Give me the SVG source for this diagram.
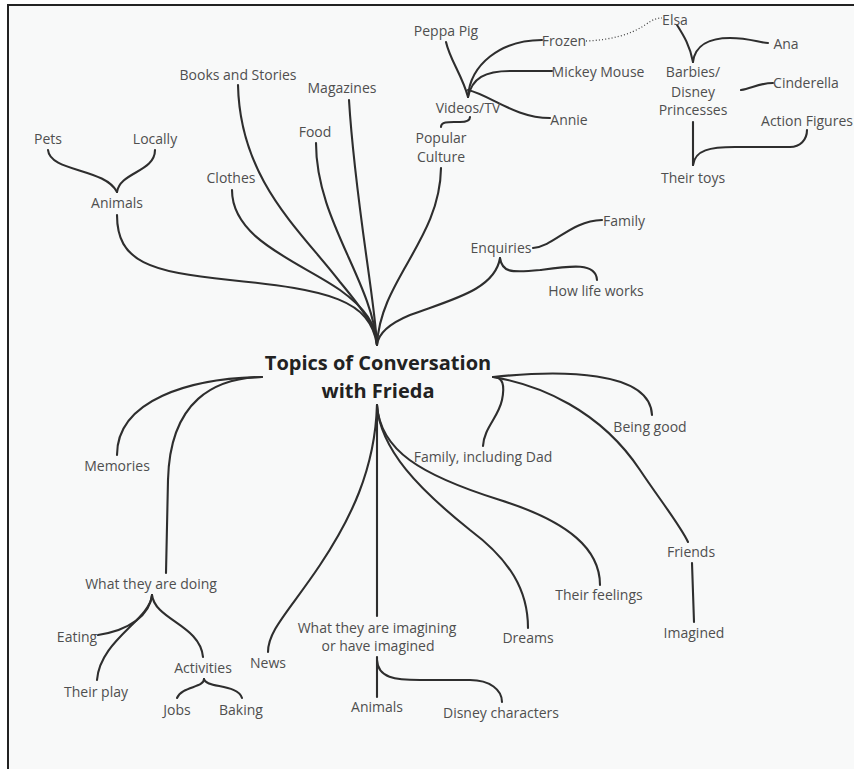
<svg xmlns="http://www.w3.org/2000/svg" width="854" height="769" viewBox="0 0 854 769">
  <style>
    .lbl { font-family: "Open Sans", "Noto Sans", "Liberation Sans", sans-serif; font-size: 14px; fill: #4f4f4f; text-anchor: middle; }
    .title { font-family: "Open Sans", "Noto Sans", "Liberation Sans", sans-serif; font-size: 20px; font-weight: bold; fill: #222; text-anchor: middle; }
    .ln { fill: none; stroke: #2e2e2e; stroke-width: 2.1; stroke-linecap: round; }
    .dot { fill: none; stroke: #444; stroke-width: 1.3; stroke-dasharray: 1 2.2; }
  </style>

  <!-- page and frame -->
  <rect x="0" y="0" width="854" height="769" fill="#ffffff"/>
  <rect x="8" y="5" width="860" height="780" fill="#f8f9f9" stroke="#222" stroke-width="2"/>

  <!-- connectors -->
  <g id="connectors">
    <!-- upper branches into the hub -->
    <path class="ln" d="M117,215 C117,262 150,272 230,280 C330,290 370,300 377,345"/>
    <path class="ln" d="M232,190 C232,240 300,262 340,290 C365,308 377,325 377,345"/>
    <path class="ln" d="M238,85 C240,180 300,230 340,282 C365,312 377,330 377,345"/>
    <path class="ln" d="M316,143 C316,220 372,280 377,345"/>
    <path class="ln" d="M349,100 C355,200 375,300 377,345"/>
    <path class="ln" d="M441,168 C440,240 380,280 377,345"/>
    <path class="ln" d="M500,258 C495,290 450,300 410,315 C386,325 378,335 377,345"/>

    <!-- animals -->
    <path class="ln" d="M48,150 C50,172 105,168 117,192"/>
    <path class="ln" d="M155,150 C155,172 120,172 117,192"/>

    <!-- enquiries -->
    <path class="ln" d="M500,258 C502,272 510,273 540,270 C570,266 596,262 597,280"/>
    <path class="ln" d="M533,248 C555,246 570,221 602,220"/>

    <!-- videos / tv -->
    <path class="ln" d="M446,42 C450,60 462,75 468,97"/>
    <path class="ln" d="M468,97 C470,65 500,40 542,40"/>
    <path class="ln" d="M468,97 C472,78 485,71 510,71 L552,71"/>
    <path class="ln" d="M468,90 C490,95 515,118 550,118"/>
    <path class="ln" d="M441,127 C441,121 450,122 460,122 C468,122 470,120 470,117"/>
    <path class="dot" d="M586,41 C610,40 630,35 645,25 C652,20 656,18 662,18"/>

    <!-- barbies / disney princesses -->
    <path class="ln" d="M677,25 C684,36 690,46 693,62"/>
    <path class="ln" d="M693,62 C695,45 710,38 730,38 C750,38 760,43 768,43"/>
    <path class="ln" d="M741,90 C752,88 760,83 773,83"/>
    <path class="ln" d="M693,122 L693,165"/>
    <path class="ln" d="M693,165 C695,150 710,147 735,147 L790,147 C800,147 807,140 807,130"/>

    <!-- left side -->
    <path class="ln" d="M262,377 C190,378 117,400 117,455"/>
    <path class="ln" d="M262,377 C215,378 170,400 168,480 L166,573"/>
    <path class="ln" d="M152,595 C150,615 130,630 98,635"/>
    <path class="ln" d="M152,595 C150,620 100,640 97,680"/>
    <path class="ln" d="M152,595 C155,620 200,625 203,657"/>
    <path class="ln" d="M204,679 C204,688 182,686 177,698"/>
    <path class="ln" d="M204,679 C205,688 238,684 242,698"/>

    <!-- lower branches -->
    <path class="ln" d="M377,405 C375,470 350,520 320,565 C290,610 268,630 268,652"/>
    <path class="ln" d="M377,405 L377,616"/>
    <path class="ln" d="M377,405 C380,450 420,490 470,530 C510,560 528,590 528,628"/>
    <path class="ln" d="M377,405 C380,450 420,475 500,500 C570,522 600,550 600,585"/>
    <path class="ln" d="M377,657 L377,697"/>
    <path class="ln" d="M377,660 C378,678 395,680 420,680 L470,680 C490,680 502,690 502,702"/>

    <!-- right side -->
    <path class="ln" d="M493,377 C503,377 505,385 502,400 C498,418 484,428 483,446"/>
    <path class="ln" d="M493,377 C560,370 650,370 652,415"/>
    <path class="ln" d="M493,377 C540,385 600,410 640,470 C660,500 680,525 688,542"/>
    <path class="ln" d="M692,563 L694,622"/>
  </g>

  <!-- hub -->
  <g id="hub">
    <text class="title" x="378" y="370">Topics of Conversation</text>
    <text class="title" x="378" y="398">with Frieda</text>
  </g>

  <g id="animals"><text class="lbl" x="117" y="208">Animals</text></g>
  <g id="pets"><text class="lbl" x="48" y="144">Pets</text></g>
  <g id="locally"><text class="lbl" x="155" y="144">Locally</text></g>
  <g id="clothes"><text class="lbl" x="231" y="183">Clothes</text></g>
  <g id="books"><text class="lbl" x="238" y="80">Books and Stories</text></g>
  <g id="food"><text class="lbl" x="315" y="137">Food</text></g>
  <g id="magazines"><text class="lbl" x="342" y="93">Magazines</text></g>
  <g id="popular-culture">
    <text class="lbl" x="441" y="143">Popular</text>
    <text class="lbl" x="441" y="162">Culture</text>
  </g>
  <g id="videos"><text class="lbl" x="468" y="113">Videos/TV</text></g>
  <g id="peppa"><text class="lbl" x="446" y="36">Peppa Pig</text></g>
  <g id="frozen"><text class="lbl" x="564" y="46">Frozen</text></g>
  <g id="mickey"><text class="lbl" x="598" y="77">Mickey Mouse</text></g>
  <g id="annie"><text class="lbl" x="569" y="125">Annie</text></g>
  <g id="elsa"><text class="lbl" x="675" y="25">Elsa</text></g>
  <g id="ana"><text class="lbl" x="786" y="49">Ana</text></g>
  <g id="barbies">
    <text class="lbl" x="693" y="77">Barbies/</text>
    <text class="lbl" x="693" y="97">Disney</text>
    <text class="lbl" x="693" y="115">Princesses</text>
  </g>
  <g id="cinderella"><text class="lbl" x="806" y="88">Cinderella</text></g>
  <g id="action-figures"><text class="lbl" x="807" y="126">Action Figures</text></g>
  <g id="their-toys"><text class="lbl" x="693" y="183">Their toys</text></g>
  <g id="enquiries"><text class="lbl" x="501" y="253">Enquiries</text></g>
  <g id="family"><text class="lbl" x="624" y="226">Family</text></g>
  <g id="how-life-works"><text class="lbl" x="596" y="296">How life works</text></g>

  <g id="memories"><text class="lbl" x="117" y="471">Memories</text></g>
  <g id="doing"><text class="lbl" x="151" y="589">What they are doing</text></g>
  <g id="eating"><text class="lbl" x="77" y="642">Eating</text></g>
  <g id="their-play"><text class="lbl" x="96" y="697">Their play</text></g>
  <g id="activities"><text class="lbl" x="203" y="673">Activities</text></g>
  <g id="jobs"><text class="lbl" x="177" y="715">Jobs</text></g>
  <g id="baking"><text class="lbl" x="241" y="715">Baking</text></g>

  <g id="news"><text class="lbl" x="268" y="668">News</text></g>
  <g id="imagining">
    <text class="lbl" x="377" y="633">What they are imagining</text>
    <text class="lbl" x="378" y="651">or have imagined</text>
  </g>
  <g id="animals-imagined"><text class="lbl" x="377" y="712">Animals</text></g>
  <g id="disney-characters"><text class="lbl" x="501" y="718">Disney characters</text></g>
  <g id="dreams"><text class="lbl" x="528" y="643">Dreams</text></g>
  <g id="feelings"><text class="lbl" x="599" y="600">Their feelings</text></g>
  <g id="family-dad"><text class="lbl" x="483" y="462">Family, including Dad</text></g>
  <g id="being-good"><text class="lbl" x="650" y="432">Being good</text></g>
  <g id="friends"><text class="lbl" x="691" y="557">Friends</text></g>
  <g id="imagined"><text class="lbl" x="694" y="638">Imagined</text></g>
</svg>
